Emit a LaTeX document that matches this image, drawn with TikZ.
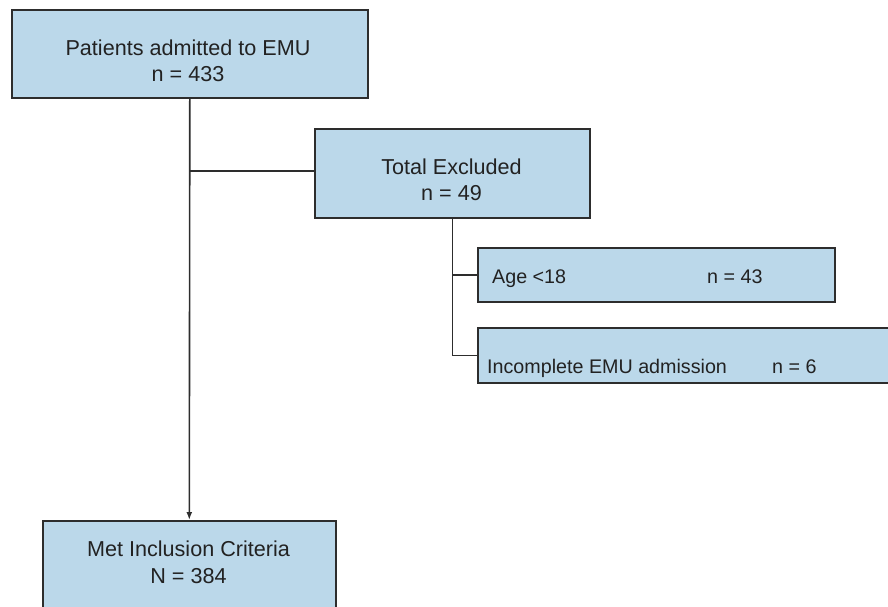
\documentclass[tikz,border=0pt]{standalone}
\usepackage{fontspec}
\setmainfont{Liberation Sans}
\usetikzlibrary{arrows.meta}
\definecolor{boxfill}{RGB}{187,216,234}
\definecolor{edge}{RGB}{45,45,45}
\definecolor{txt}{RGB}{34,34,34}
\begin{document}
\begin{tikzpicture}[x=1pt,y=-1pt,
  box/.style={draw=edge, line width=1.6pt, fill=boxfill, anchor=north west, inner sep=0pt},
  big/.style={font=\fontsize{21.6}{26}\selectfont, text=txt, inner sep=0pt, anchor=base},
  small/.style={font=\fontsize{19.7}{24}\selectfont, text=txt, inner sep=0pt, anchor=base west},
  link/.style={draw=edge, line width=1.6pt}]
\useasboundingbox (0,0) rectangle (888,607);
\clip (0,0) rectangle (888,607);
% boxes
\node[box, minimum width=356pt, minimum height=88pt] (top) at (11,9) {};
\node[box, minimum width=275pt, minimum height=89pt] (excl) at (314,128) {};
\node[box, minimum width=357pt, minimum height=54pt] (age) at (477,247) {};
\node[box, minimum width=420pt, minimum height=55pt] (inc) at (477,327) {};
\node[box, minimum width=293pt, minimum height=95pt] (bot) at (42,520) {};
% texts
\node[big] (t1) at (188,56) {Patients admitted to EMU};
\node[big] (t2) at (188,82) {n = 433};
\node[big] (e1) at (451.5,174) {Total Excluded};
\node[big] (e2) at (451.5,200) {n = 49};
\node[small] (a1) at (492,283) {Age <18};
\node[small] (a2) at (707,283) {n = 43};
\node[small] (i1) at (487,373) {Incomplete EMU admission};
\node[small] (i2) at (772,373) {n = 6};
\node[big] (b1) at (188.5,556) {Met Inclusion Criteria};
\node[big] (b2) at (188.5,583) {N = 384};
% connectors
\coordinate (j) at (top.south |- 0,171);
\draw[link, -{Latex[length=8pt,width=6pt]}] (top.south) -- (bot.north);
\draw[link] (j) -- (j -| excl.west);
\draw[link] (excl.south) |- (age.west);
\draw[link] (excl.south) |- (inc.west);
\end{tikzpicture}
\end{document}
